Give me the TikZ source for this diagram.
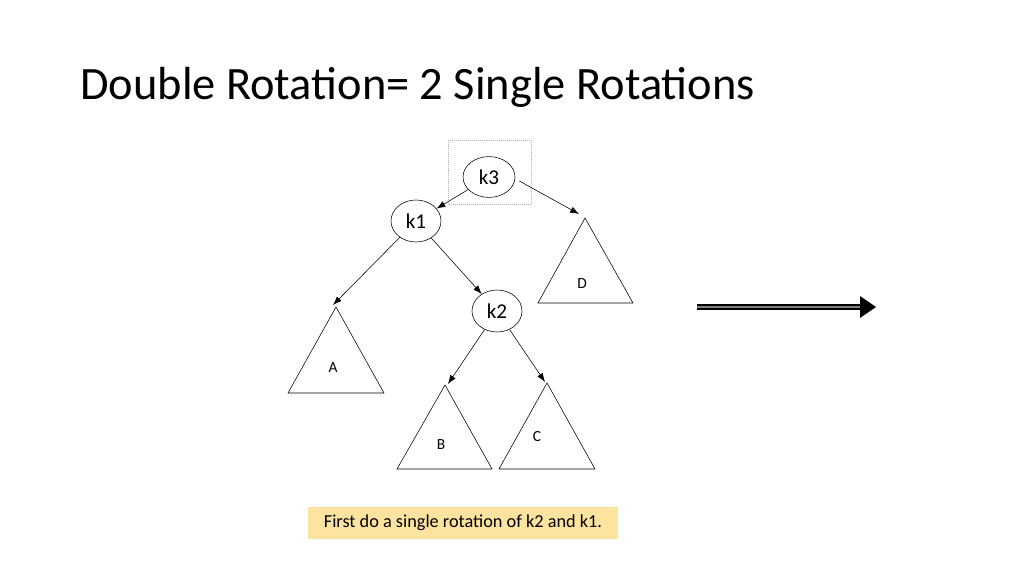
\documentclass[tikz,border=0pt]{standalone}
\usepackage{fontspec}
\setmainfont{Carlito}
\usetikzlibrary{arrows.meta,positioning,shapes.geometric}

\begin{document}
\begin{tikzpicture}[x=0.025cm, y=-0.025cm,
  key/.style={draw, ellipse, minimum width=1.3cm, minimum height=1.02cm, inner sep=0pt, font=\fontsize{15}{18}\selectfont},
  arr/.style={-{Latex[length=2.2mm, width=1.6mm]}, thin},
  tri/.style={draw, thin},
  lab/.style={font=\fontsize{11}{13}\selectfont, inner sep=1pt}
]
\useasboundingbox (0,0) rectangle (1024,576);

% Title
\node[anchor=base west, font=\fontsize{33}{38}\selectfont, inner sep=0pt] (title) at (80,100) {Double Rotation= 2 Single Rotations};

% Dotted frame round the root
\draw[gray!60, densely dotted] (448,140) rectangle (531,204);

% Keys
\node[key] (k3) at (489,177) {k3};
\node[key, minimum width=1.25cm, minimum height=1.05cm] (k1) at (416,221) {k1};
\node[key, minimum width=1.25cm, minimum height=1.05cm] (k2) at (497,311) {k2};

% Subtrees: apex, base corners
\coordinate (Dtop) at (585,218);
\draw[tri] (Dtop) -- (633,303) -- (538,303) -- cycle;
\node[lab] (D) at (582,284) {D};
\coordinate (Atop) at (336,307);
\draw[tri] (Atop) -- (384,393) -- (288,393) -- cycle;
\node[lab] (A) at (333,368) {A};
\coordinate (Btop) at (445,385);
\draw[tri] (Btop) -- (492,469) -- (397,469) -- cycle;
\node[lab] (B) at (441,445) {B};
\coordinate (Ctop) at (547,383);
\draw[tri] (Ctop) -- (595,469) -- (499,469) -- cycle;
\node[lab] (C) at (537,437) {C};

% Edges
\coordinate (Dend) at (579,214);
\coordinate (Aend) at (333,305);
\coordinate (Bend) at (448,384);
\coordinate (Cend) at (545,382);
\draw[arr] (k3) -- (k1);
\draw[arr] (k3.east) ++(4,4) -- (Dend);
\draw[arr] (k1) -- (Aend);
\draw[arr] (k1) -- (k2);
\draw[arr] (k2) -- (Bend);
\draw[arr] (k2) -- (Cend);

% Big arrow to the next step
\coordinate (s) at (697,307);
\coordinate (t) at (876,307);
\draw[line width=0.4pt, double distance=1.5pt, double=gray] (s) -- ++(165,0);
\draw[line width=0.6pt] (s) ++(0,-2.5) -- ++(165,0) (s) ++(0,2.5) -- ++(165,0);
\fill (860,296) -- (t) -- (860,318) -- cycle;

% Note
\node[fill=yellow!45!orange!35!white, minimum width=7.75cm, minimum height=0.8cm, font=\fontsize{13}{15}\selectfont] (note) at (463,523) {First do a single rotation of k2 and k1.};
\end{tikzpicture}
\end{document}
